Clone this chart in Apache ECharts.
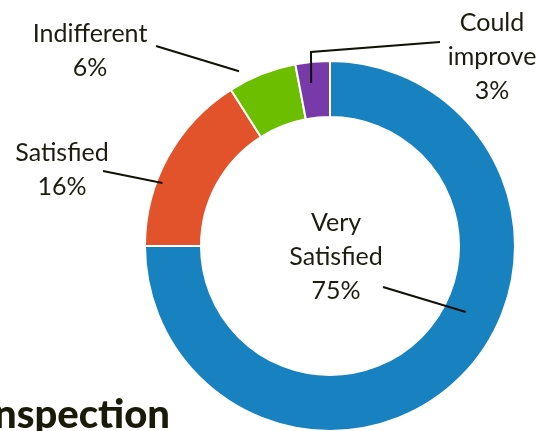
<!DOCTYPE html>
<html>
<head>
<meta charset="utf-8">
<script src="https://cdn.jsdelivr.net/npm/echarts@6/dist/echarts.min.js"></script>
<style>
html, body { margin: 0; padding: 0; background: #fff; }
#main { width: 556px; height: 431px; }
</style>
</head>
<body>
<div id="main"></div>
<script>
// data
var categories = ['Very\nSatisfied', 'Satisfied', 'Indifferent', 'Could\nimprove'];
var values = [75, 16, 6, 3];

// styles / layout
var colors = ['#1881bf', '#e2522b', '#6bbf00', '#783aa8'];
var textColor = '#1c1c10';
var cx = 330, cy = 246;
// label centres (px)
var labelPos = [[336, 257], [62, 170], [90, 51], [492, 57]];
// leader start on the ring: [angle in deg, radius]
var leaderAnchor = [[-25.9, 151], [159.4, 179], [117.5, 197], [96.6, 164]];
// leader points towards the label
var leaderEnd = [[[383, 287]], [[103, 171]], [[156, 46]], [[311, 52], [440, 42]]];

function leaderPoints(i) {
    var a = leaderAnchor[i][0] * Math.PI / 180;
    var r = leaderAnchor[i][1];
    var p0 = [cx + r * Math.cos(a), cy - r * Math.sin(a)];
    return [p0].concat(leaderEnd[i]);
}

var chart = echarts.init(document.getElementById('main'));

// leader lines are drawn on top of the ring
var graphics = values.map(function (v, i) {
    return {
        type: 'polyline',
        z: 100,
        silent: true,
        shape: { points: leaderPoints(i) },
        style: { stroke: '#111108', lineWidth: 2, fill: null }
    };
});
graphics.push({
    type: 'text',
    silent: true,
    z: 100,
    style: {
        text: 'Inspection',
        x: 170,
        y: 415,
        align: 'right',
        verticalAlign: 'middle',
        fill: '#1a1a08',
        font: '900 40px Lato'
    }
});

var option = {
    animation: false,
    color: colors,
    graphic: graphics,
    series: [{
        type: 'pie',
        center: [cx, cy],
        radius: [129, 185],
        startAngle: 90,
        clockwise: true,
        avoidLabelOverlap: false,
        emphasis: { disabled: true },
        itemStyle: {
            borderColor: '#ffffff',
            borderWidth: 2
        },
        label: {
            show: true,
            position: 'outside',
            formatter: function (p) { return p.name + '\n' + p.value + '%'; },
            color: textColor,
            fontFamily: 'Lato',
            fontSize: 25,
            lineHeight: 34,
            align: 'center'
        },
        labelLine: { show: false },
        labelLayout: function (params) {
            var i = params.dataIndex;
            return {
                x: labelPos[i][0],
                y: labelPos[i][1],
                align: 'center',
                verticalAlign: 'middle'
            };
        },
        data: categories.map(function (name, i) {
            return { name: name, value: values[i] };
        })
    }]
};

chart.setOption(option);
</script>
</body>
</html>
